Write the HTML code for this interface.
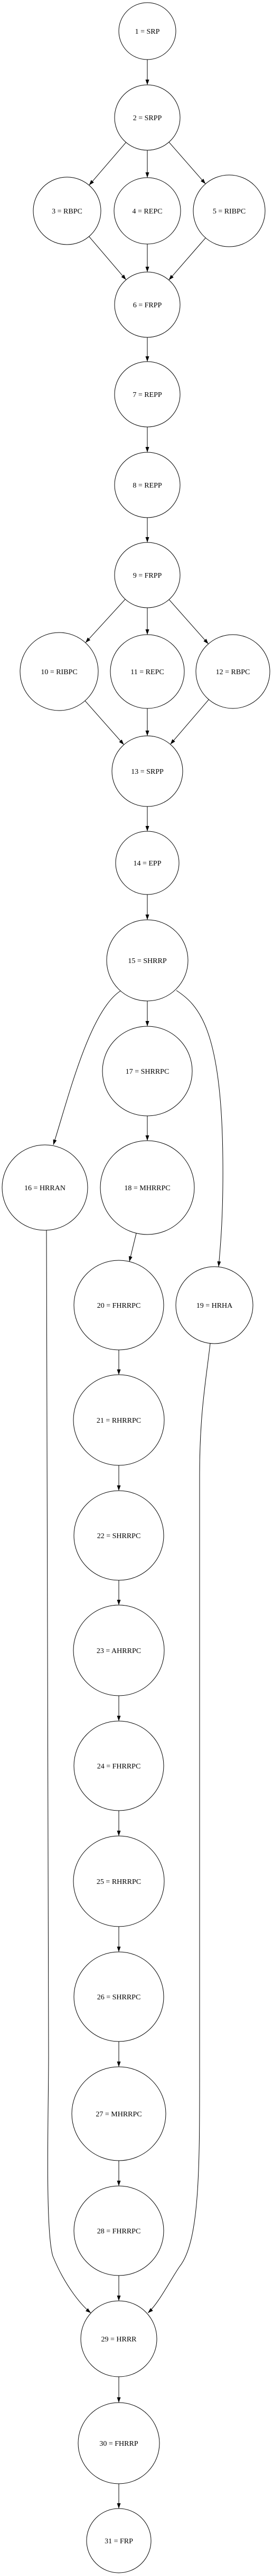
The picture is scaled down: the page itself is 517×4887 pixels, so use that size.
<!DOCTYPE html>
<html><head><meta charset="utf-8"><style>
html,body{margin:0;padding:0;background:#fff;}
svg{display:block;}
text{font-family:"Liberation Serif",serif;font-size:14px;text-anchor:middle;fill:#000;}
circle{fill:none;stroke:#000;stroke-width:1;}
.e{fill:none;stroke:#000;stroke-width:1;marker-end:url(#a);}
</style></head><body>
<svg width="517" height="4887" viewBox="0 0 517 4887" xmlns="http://www.w3.org/2000/svg">
<defs><marker id="a" markerUnits="userSpaceOnUse" markerWidth="10" markerHeight="8" refX="10" refY="3.5" orient="auto"><path d="M0,0 L10,3.5 L0,7 z" fill="#000"/></marker></defs>

<circle cx="279" cy="59" r="54"/><text x="279" y="64">1 = SRP</text>
<circle cx="279" cy="223" r="62"/><text x="279" y="228">2 = SRPP</text>
<circle cx="127" cy="400" r="64"/><text x="127" y="405">3 = RBPC</text>
<circle cx="279" cy="400" r="63"/><text x="279" y="405">4 = REPC</text>
<circle cx="434" cy="400" r="68"/><text x="434" y="405">5 = RIBPC</text>
<circle cx="279" cy="578" r="62"/><text x="279" y="583">6 = FRPP</text>
<circle cx="279" cy="748" r="62"/><text x="279" y="753">7 = REPP</text>
<circle cx="279" cy="920" r="62"/><text x="279" y="925">8 = REPP</text>
<circle cx="279" cy="1091" r="62"/><text x="279" y="1096">9 = FRPP</text>
<circle cx="112" cy="1274" r="74"/><text x="112" y="1279">10 = RIBPC</text>
<circle cx="279" cy="1274" r="70"/><text x="279" y="1279">11 = REPC</text>
<circle cx="441" cy="1274" r="70"/><text x="441" y="1279">12 = RBPC</text>
<circle cx="279" cy="1463" r="67"/><text x="279" y="1468">13 = SRPP</text>
<circle cx="279" cy="1637" r="60"/><text x="279" y="1642">14 = EPP</text>
<circle cx="279" cy="1822" r="77"/><text x="279" y="1827">15 = SHRRP</text>
<circle cx="279" cy="2032" r="85"/><text x="279" y="2037">17 = SHRRPC</text>
<circle cx="85" cy="2253" r="81"/><text x="85" y="2258">16 = HRRAN</text>
<circle cx="279" cy="2253" r="89"/><text x="279" y="2258">18 = MHRRPC</text>
<circle cx="225" cy="2476" r="85"/><text x="225" y="2481">20 = FHRRPC</text>
<circle cx="406" cy="2476" r="73"/><text x="406" y="2481">19 = HRHA</text>
<circle cx="225" cy="2694" r="86"/><text x="225" y="2699">21 = RHRRPC</text>
<circle cx="225" cy="2913" r="85"/><text x="225" y="2918">22 = SHRRPC</text>
<circle cx="225" cy="3131" r="86"/><text x="225" y="3136">23 = AHRRPC</text>
<circle cx="225" cy="3350" r="85"/><text x="225" y="3355">24 = FHRRPC</text>
<circle cx="225" cy="3569" r="86"/><text x="225" y="3574">25 = RHRRPC</text>
<circle cx="225" cy="3788" r="85"/><text x="225" y="3793">26 = SHRRPC</text>
<circle cx="225" cy="4010" r="89"/><text x="225" y="4015">27 = MHRRPC</text>
<circle cx="225" cy="4232" r="85"/><text x="225" y="4237">28 = FHRRPC</text>
<circle cx="225" cy="4437" r="72"/><text x="225" y="4442">29 = HRRR</text>
<circle cx="225" cy="4635" r="77"/><text x="225" y="4640">30 = FHRRP</text>
<circle cx="225" cy="4820" r="61"/><text x="225" y="4825">31 = FRP</text>

<path class="e" d="M279,113 L279,161"/>
<path class="e" d="M238.6,270.1 L168.7,351.4"/>
<path class="e" d="M279,285 L279,337"/>
<path class="e" d="M319.9,269.6 L389.2,348.9"/>
<path class="e" d="M168.6,448.7 L238.7,530.8"/>
<path class="e" d="M279,463 L279,516"/>
<path class="e" d="M389.3,451.3 L319.7,531.3"/>
<path class="e" d="M279,640 L279,686"/>
<path class="e" d="M279,810 L279,858"/>
<path class="e" d="M279,982 L279,1029"/>
<path class="e" d="M237.2,1136.8 L161.9,1219.3"/>
<path class="e" d="M279,1153 L279,1204"/>
<path class="e" d="M320.1,1137.4 L394.6,1221.6"/>
<path class="e" d="M161,1329.4 L234.6,1412.8"/>
<path class="e" d="M279,1344 L279,1396"/>
<path class="e" d="M395.4,1327.1 L322.6,1412.1"/>
<path class="e" d="M279,1530 L279,1577"/>
<path class="e" d="M279,1697 L279,1745"/>
<path class="e" d="M279,1899 L279,1947"/>
<path class="e" d="M228,1880 C170,1918 130,2080 101,2172"/>
<path class="e" d="M334,1879 C375,1906 420,1950 422,2200 C423,2300 418,2360 414,2403"/>
<path class="e" d="M279,2117 L279,2164"/>
<path class="e" d="M258.1,2339.5 L245,2393.4"/>
<path class="e" d="M225,2561 L225,2608"/>
<path class="e" d="M225,2780 L225,2828"/>
<path class="e" d="M225,2998 L225,3045"/>
<path class="e" d="M225,3217 L225,3265"/>
<path class="e" d="M225,3435 L225,3483"/>
<path class="e" d="M225,3655 L225,3703"/>
<path class="e" d="M225,3873 L225,3921"/>
<path class="e" d="M225,4099 L225,4147"/>
<path class="e" d="M225,4317 L225,4365"/>
<path class="e" d="M88,2334 L92,3900 C92,4000 85,4230 100,4280 C120,4330 150,4370 172,4388"/>
<path class="e" d="M398,2549 C390,2620 378,2680 378,2800 L378,3900 C378,4100 380,4250 340,4300 C320,4330 300,4370 280,4388"/>
<path class="e" d="M225,4509 L225,4558"/>
<path class="e" d="M225,4712 L225,4759"/>
</svg>
</body></html>
